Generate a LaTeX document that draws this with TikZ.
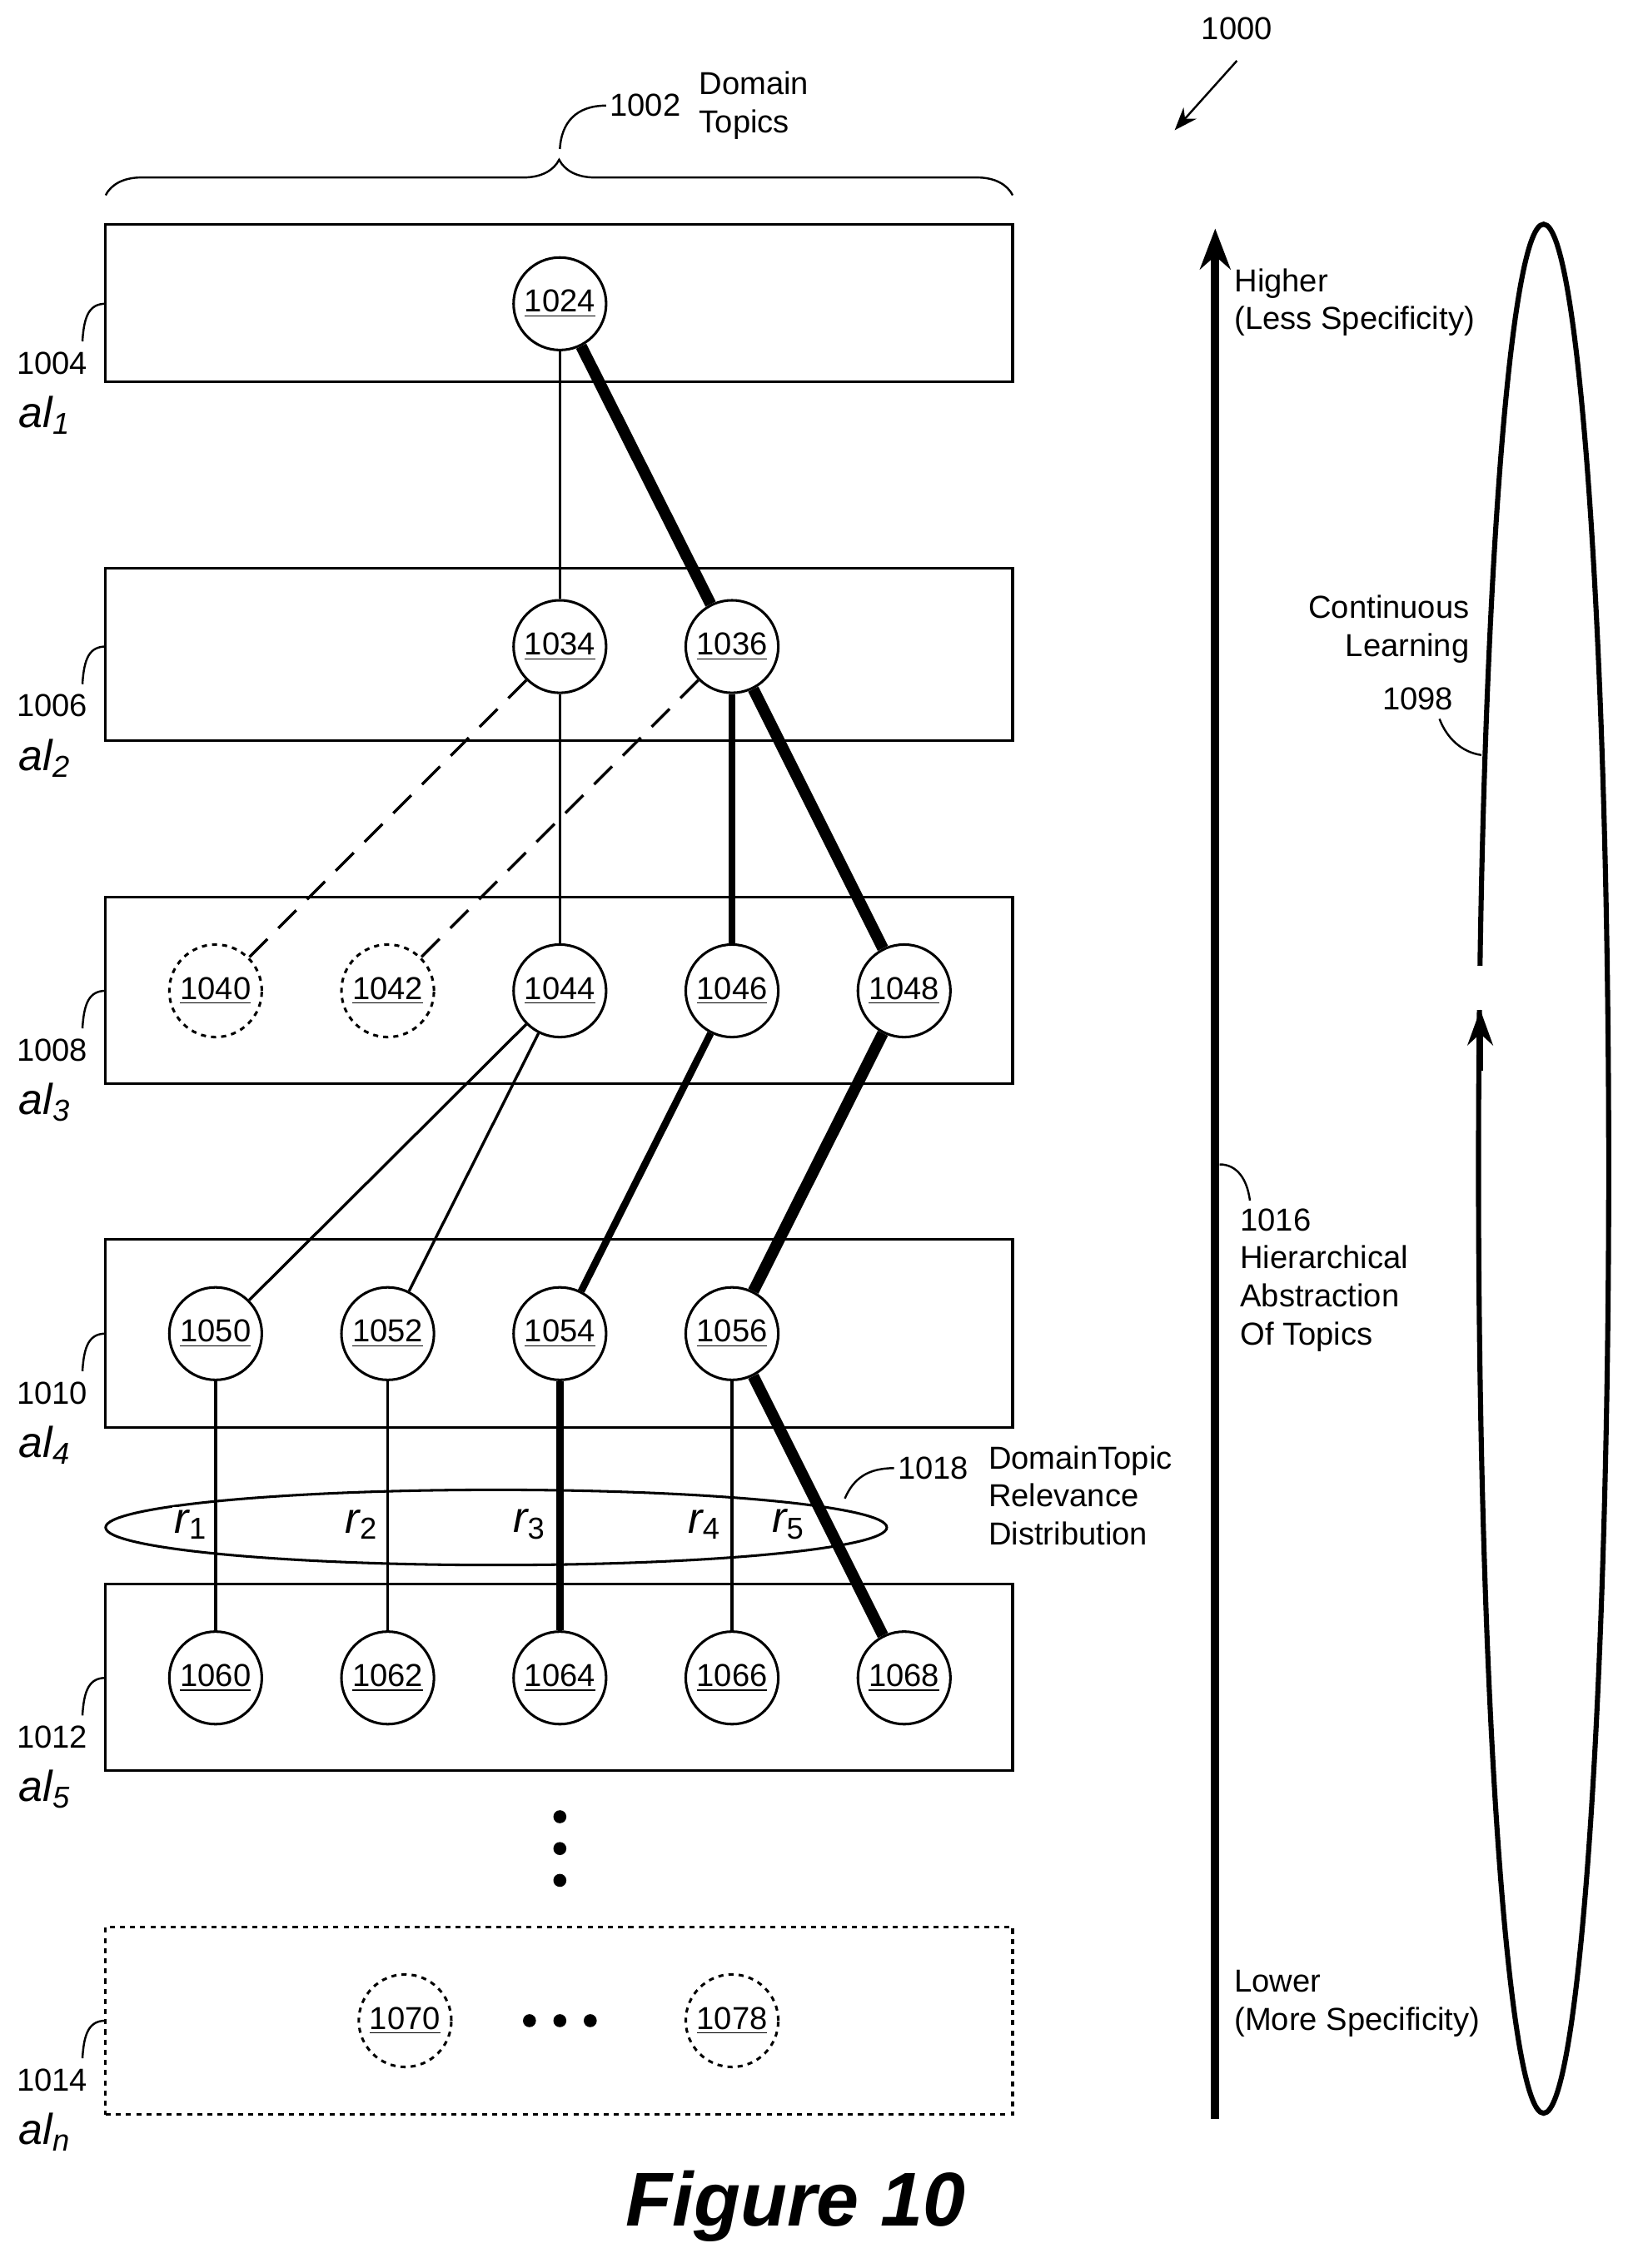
\documentclass[tikz,border=0pt]{standalone}
\usepackage{fontspec}
\setmainfont{Liberation Sans}
\usetikzlibrary{decorations.pathreplacing,arrows.meta}
\begin{document}
\begin{tikzpicture}[x=0.02cm,y=-0.02cm,
 lbl/.style={font=\fontsize{12.5}{15}\selectfont,inner sep=0pt},
 al/.style={font=\fontsize{17}{20}\selectfont\rmfamily\itshape,inner sep=0pt},
 lay/.style={draw,line width=1pt},
 tn/.style={circle,draw,fill=white,line width=1pt,minimum size=1.28cm,inner sep=0pt,font=\fontsize{12.5}{15}\selectfont},
 dn/.style={tn,dash pattern=on 2pt off 2pt},
 thin/.style={line width=1.1pt},
 thk/.style={line width=2.8pt},
 vthk/.style={line width=4.5pt},
 lead/.style={line width=0.8pt}]
\useasboundingbox (0,0) rectangle (1125,1568);
% layers
\foreach \t/\b/\n in {155/264/L1,393/512/L2,620/749/L3,857/987/L4,1095/1224/L5}{
 \node[lay,minimum width=12.54cm,minimum height={(\b-\t)*0.02cm},inner sep=0pt] (\n) at (386.5,{(\t+\b)/2}) {};}
\node[lay,dash pattern=on 2pt off 2pt,minimum width=12.54cm,minimum height=2.6cm,inner sep=0pt] (L6) at (386.5,1397) {};
% layer labels
\foreach \n/\y/\num/\s in {L1/210/1004/1,L2/447/1006/2,L3/685/1008/3,L4/922/1010/4,L5/1160/1012/5,L6/1397/1014/n}{
 \node[lbl] at (36,\y+41) {\num};
 \node[al] at (31,\y+77) {al$_{\mathit{\s}}$};
 \draw[lead] (73,\y) .. controls (62,\y) and (58,\y+8) .. (57,\y+26);}
% brace
\draw[lead,decorate,decoration={brace,amplitude=14pt}] (73,135) -- (700,135);
\node[lbl] at (446,73) {1002};
\draw[lead] (419,73) .. controls (398,73) and (388,85) .. (387,103);
\node[lbl,align=left,anchor=west] at (483,73) {Domain\\Topics};
\node[lbl] at (855,20) {1000};
\draw[lead,-{Stealth[length=9pt]}] (855,42) -- (812,90);
% nodes
\node[tn] (n1024) at (387,210) {\underline{1024}};
\node[tn] (n1034) at (387,447) {\underline{1034}};
\node[tn] (n1036) at (506,447) {\underline{1036}};
\node[dn] (n1040) at (149,685) {\underline{1040}};
\node[dn] (n1042) at (268,685) {\underline{1042}};
\node[tn] (n1044) at (387,685) {\underline{1044}};
\node[tn] (n1046) at (506,685) {\underline{1046}};
\node[tn] (n1048) at (625,685) {\underline{1048}};
\node[tn] (n1050) at (149,922) {\underline{1050}};
\node[tn] (n1052) at (268,922) {\underline{1052}};
\node[tn] (n1054) at (387,922) {\underline{1054}};
\node[tn] (n1056) at (506,922) {\underline{1056}};
\node[tn] (n1060) at (149,1160) {\underline{1060}};
\node[tn] (n1062) at (268,1160) {\underline{1062}};
\node[tn] (n1064) at (387,1160) {\underline{1064}};
\node[tn] (n1066) at (506,1160) {\underline{1066}};
\node[tn] (n1068) at (625,1160) {\underline{1068}};
\node[dn] (n1070) at (280,1397) {\underline{1070}};
\node[dn] (n1078) at (506,1397) {\underline{1078}};
\foreach \x in {366,387,408} \fill (\x,1397) circle (4.5);
\foreach \y in {1256,1278,1300} \fill (387,\y) circle (4.5);
% ellipse
\draw[line width=1pt] (343,1056) ellipse [x radius=270,y radius=26];
% edges
\draw[thin] (n1024) -- (n1034);
\draw[vthk] (n1024) -- (n1036);
\draw[thin] (n1034) -- (n1044);
\draw[thin,dash pattern=on 10pt off 6pt] (n1034) -- (n1040);
\draw[thin,dash pattern=on 10pt off 6pt] (n1036) -- (n1042);
\draw[thk] (n1036) -- (n1046);
\draw[vthk] (n1036) -- (n1048);
\draw[thin] (n1044) -- (n1050);
\draw[thin] (n1044) -- (n1052);
\draw[thk] (n1046) -- (n1054);
\draw[vthk] (n1048) -- (n1056);
\draw[thin] (n1050) -- (n1060);
\draw[thin] (n1052) -- (n1062);
\draw[thk] (n1054) -- (n1064);
\draw[thin] (n1056) -- (n1066);
\draw[vthk] (n1056) -- (n1068);
% r labels
\foreach \x/\i in {132/1,250/2,366/3,487/4,545/5}
 \node[al,fill=white,inner sep=1pt] at (\x,1054) {r$_{\mathrm{\i}}$};
\node[lbl] at (645,1015) {1018};
\draw[lead] (618,1015) .. controls (600,1015) and (590,1022) .. (584,1036);
\node[lbl,align=left,anchor=west] at (683,1034) {DomainTopic\\Relevance\\Distribution};
% big arrow
\draw[line width=3.2pt,-{Stealth[length=16pt,width=12pt]}] (840,1465) -- (840,158);
\node[lbl,align=left,anchor=west] at (853,209) {Higher\\(Less Specificity)};
\node[lbl,align=left,anchor=west] at (853,1385) {Lower\\(More Specificity)};
\node[lbl,align=left,anchor=west] at (857,885) {1016\\Hierarchical\\Abstraction\\Of Topics};
\draw[lead] (843,805) .. controls (855,805) and (862,815) .. (864,830);
% right ellipse
\coordinate (ec) at (1067,808);
\draw[line width=2pt] (ec) ellipse [x radius=45,y radius=653];
\fill[white] (1012,668) rectangle (1035,698);
\draw[line width=2pt,-{Stealth[length=14pt,width=10pt]}] (1023.2,740) -- (1023.2,698);
\node[lbl,align=right,anchor=east] at (1016,435) {Continuous\\Learning};
\node[lbl] at (980,483) {1098};
\draw[lead] (995,497) .. controls (1000,510) and (1010,520) .. (1024,522);
\node[font=\fontsize{30}{34}\selectfont\bfseries\itshape] at (550,1525) {Figure 10};
\end{tikzpicture}
\end{document}
